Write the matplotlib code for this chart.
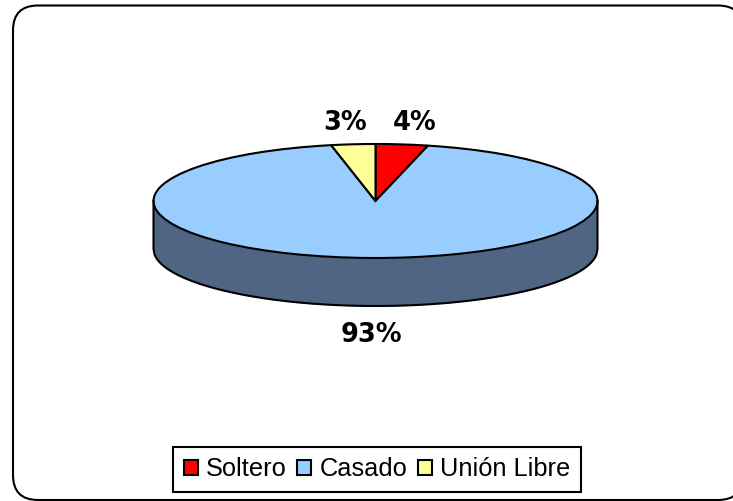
import matplotlib
matplotlib.use('Agg')
import matplotlib.pyplot as plt
import numpy as np
from matplotlib.patches import FancyBboxPatch

categories = ['Soltero', 'Casado', 'Unión Libre']
values = [3.8, 93, 3.2]
colors = ['#FF0000', '#99CCFF', '#FFFF99']
side_color = '#4F6583'

W, H = 733, 501
cx, cy = 375.5, 201   # pie centre in pixels
rx, ry = 222, 57      # ellipse radii in pixels
depth = 48 / ry

plt.rcParams['font.family'] = ['Liberation Sans', 'DejaVu Sans']

fig = plt.figure(figsize=(W / 100, H / 100), dpi=100, facecolor='white')

# rounded outer border, runs off the right side of the picture
bg = fig.add_axes([0, 0, 1, 1])
bg.set_xlim(0, W)
bg.set_ylim(H, 0)
bg.axis('off')
bg.add_patch(FancyBboxPatch((13 + 25, 5.5 + 25), 730 - 50, 494.5 - 50,
                            boxstyle='round,pad=25,rounding_size=25',
                            fc='white', ec='black', lw=1.5, clip_on=False))

ax = fig.add_axes([0, 0, 1, 1])
ax.patch.set_alpha(0)

# side of the cylinder, outline drawn as one line so the corners join
t = np.linspace(-1, 1, 400)
low = -np.sqrt(1 - t**2)
ax.fill_between(t, low, low - depth, color=side_color, lw=0)
ax.plot(np.r_[-1, t, 1], np.r_[0, low - depth, 0], color='black', lw=1.5)

wedges, _ = ax.pie(values, colors=colors, startangle=90, counterclock=False,
                   radius=1, center=(0, 0),
                   wedgeprops={'edgecolor': 'black', 'linewidth': 1.5})

ax.set_aspect('auto')
ax.set_xlim((0 - cx) / rx, (W - cx) / rx)
ax.set_ylim((cy - H) / ry, cy / ry)
ax.axis('off')

label_px = [(414.5, 123), (371, 334.5), (345.5, 123)]
for v, (px, py) in zip(values, label_px):
    ax.text((px - cx) / rx, (cy - py) / ry, f'{v:.0f}%', ha='center', va='center',
            fontsize=18.5, fontweight='bold', family='DejaVu Sans', color='black')

leg = ax.legend(wedges, categories, loc='center',
                bbox_to_anchor=(377 / W, 1 - 469.5 / H), bbox_transform=fig.transFigure,
                ncols=3, fontsize=18.3, frameon=True, fancybox=False, framealpha=1,
                edgecolor='black', handlelength=0.55, handleheight=0.55,
                handletextpad=0.32, columnspacing=0.42, borderpad=0.42, borderaxespad=0)
leg.get_frame().set_linewidth(1.5)

fig.savefig('out.png', dpi=100)
